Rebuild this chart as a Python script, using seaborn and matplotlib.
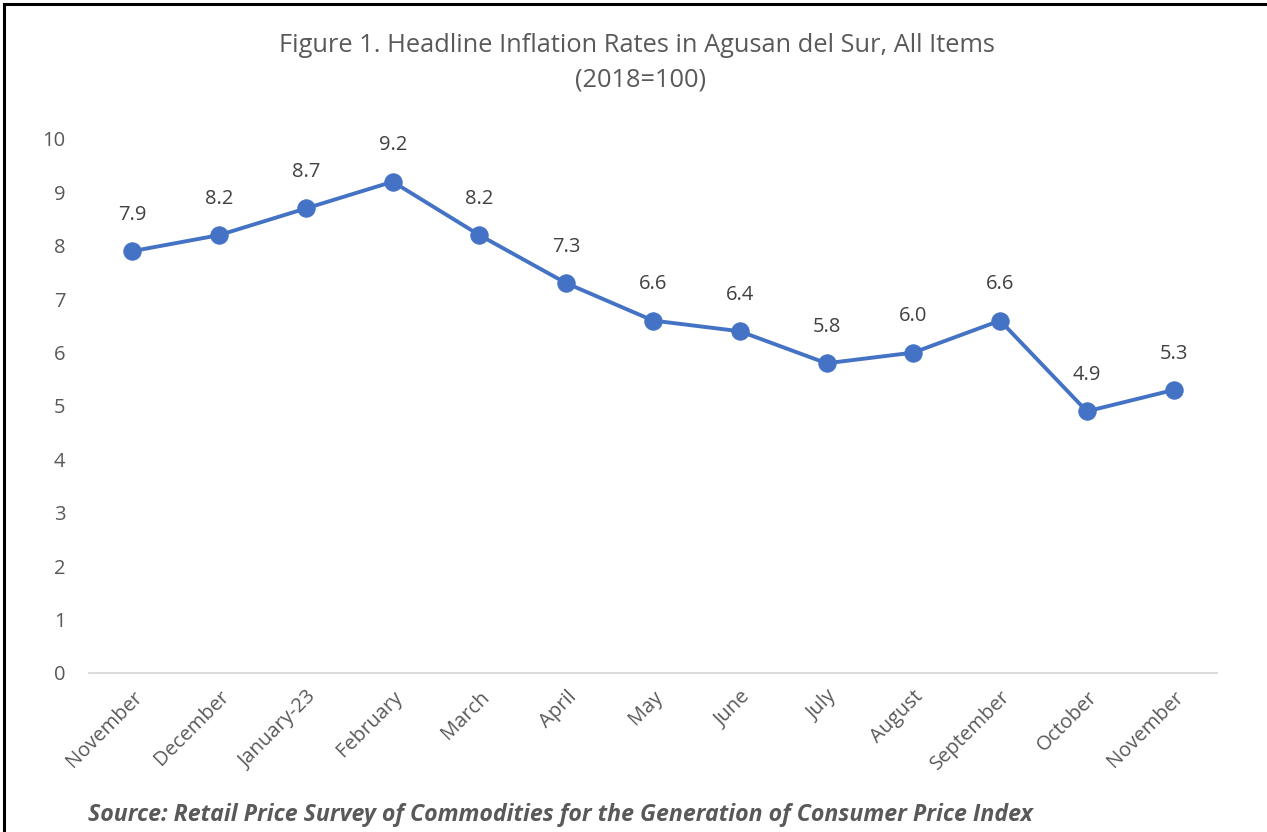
import matplotlib
matplotlib.use("Agg")
import matplotlib.pyplot as plt
import seaborn as sns
import pandas as pd
from matplotlib.patches import Rectangle

months = ["November", "December", "January-23", "February", "March", "April", "May",
          "June", "July", "August", "September", "October", "November"]
rates = [7.9, 8.2, 8.7, 9.2, 8.2, 7.3, 6.6, 6.4, 5.8, 6.0, 6.6, 4.9, 5.3]
yticks = [0, 1, 2, 3, 4, 5, 6, 7, 8, 9, 10]

sns.set_theme(style="white")
plt.rcParams['font.family'] = ['Open Sans', 'DejaVu Sans']

GRAY = "#595959"
BLUE = "#4472C4"

df = pd.DataFrame({"pos": range(len(months)), "rate": rates})

fig = plt.figure(figsize=(12.67, 8.32), dpi=100)
ax = fig.add_axes([89/1267, 1-673/832, (1217-89)/1267, (673-139)/832])

sns.lineplot(data=df, x="pos", y="rate", ax=ax, color=BLUE, linewidth=2.8,
             marker="o", markersize=12.5, markeredgecolor=BLUE, markerfacecolor=BLUE)

for i, v in enumerate(rates):
    ax.annotate(f"{v:.1f}", (i, v), xytext=(0, 19), textcoords="offset points",
                ha="center", va="bottom", fontsize=14.5, color="#404040")

ax.set_xlim(-0.5, len(months) - 0.5)
ax.set_ylim(0, 10)
ax.set_yticks(yticks)
ax.set_yticklabels([str(t) for t in yticks], fontsize=14.5, color=GRAY)
ax.set_xticks(range(len(months)))
ax.set_xticklabels(months, rotation=45, ha="right", rotation_mode="anchor",
                   fontsize=14.5, color=GRAY)
ax.tick_params(axis="y", length=0, pad=17)
ax.tick_params(axis="x", length=0, pad=10)
ax.set_xlabel("")
ax.set_ylabel("")
for s in ["top", "right", "left"]:
    ax.spines[s].set_visible(False)
ax.spines["bottom"].set_color("#D9D9D9")
ax.spines["bottom"].set_linewidth(1.3)
ax.grid(False)

fig.text(637/1267, 1-45/832, "Figure 1. Headline Inflation Rates in Agusan del Sur, All Items",
         ha="center", va="center", fontsize=18.3, color=GRAY)
fig.text(640/1267, 1-80/832, "(2018=100)", ha="center", va="center", fontsize=18.3, color=GRAY)
fig.text(88/1267, 1-815/832,
         "Source: Retail Price Survey of Commodities for the Generation of Consumer Price Index",
         ha="left", va="center", fontsize=16.7, color=GRAY, fontweight="bold", fontstyle="italic")

fig.patches.append(Rectangle((4/1267, -0.05), 1.2, (832-4)/832 + 0.05,
                             transform=fig.transFigure, fill=False,
                             edgecolor="black", linewidth=2.2))

fig.savefig("out.png", dpi=100, facecolor="white")
